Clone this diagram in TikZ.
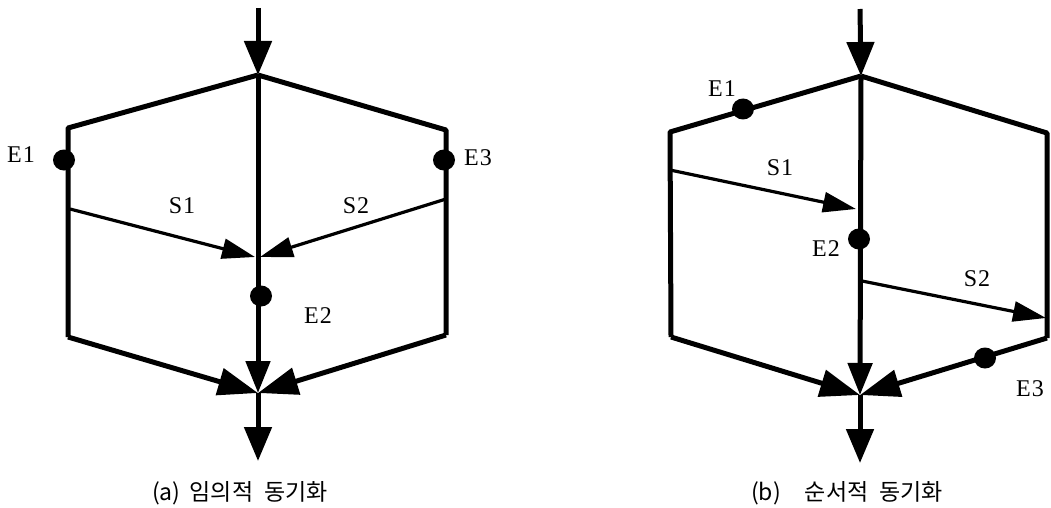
\documentclass[tikz,border=0pt]{standalone}
\usepackage{fontspec}
\setmainfont{Liberation Serif}
\newfontfamily\krfont{Noto Sans CJK KR}
\usetikzlibrary{arrows.meta,shapes.geometric}
\tikzset{
  main/.style={line width=5pt, line join=round},
  sline/.style={line width=3.2pt},
  bighead/.style={-{Triangle[length=34pt,width=27pt]}},
  midhead/.style={-{Triangle[length=32pt,width=24pt]}},
  diaghead/.style={-{Triangle[length=40pt,width=27pt]}},
  shead/.style={-{Triangle[length=33pt,width=20pt]}},
  evdot/.style={ellipse, fill=black, minimum width=22pt, minimum height=21pt, inner sep=0pt},
  lbl/.style={font=\fontsize{24}{27}\selectfont, inner sep=0pt},
  captext/.style={font=\krfont\fontsize{23}{27}\selectfont, inner sep=0pt, anchor=west}
}
\begin{document}
\begin{tikzpicture}[x=1pt,y=-1pt]
\useasboundingbox (0,0) rectangle (1051,508);
% ---------- (a) ----------
\coordinate (aS) at (258,8);
\coordinate (aT) at (258,75);
\coordinate (aTL) at (68,128);
\coordinate (aBL) at (68,337);
\coordinate (aTR) at (446,130);
\coordinate (aBR) at (446,335);
\coordinate (aB) at (258,393);
\coordinate (aE) at (258,461);
\coordinate (aS1s) at (70,209);
\coordinate (aS1t) at (255,257);
\coordinate (aS2s) at (446,199);
\coordinate (aS2t) at (260,257);
\draw[main,bighead] (aS) -- (aT);
\draw[main] (aT) -- (aTL) -- (aBL);
\draw[main] (aT) -- (aTR) -- (aBR);
\draw[main,diaghead] (aBL) -- (aB);
\draw[main,diaghead] (aBR) -- (aB);
\draw[main,midhead] (aT) -- (aB);
\draw[main,bighead] (aB) -- (aE);
\draw[sline,shead] (aS1s) -- (aS1t);
\draw[sline,shead] (aS2s) -- (aS2t);
\node[evdot] (aD1) at (64,160) {};
\node[evdot] (aD3) at (444,160) {};
\node[evdot] (aD2) at (261,296) {};
\node[lbl] (aL1) at (21,155) {E\kern1pt1};
\node[lbl] (aL3) at (478,158) {E\kern1pt3};
\node[lbl] (aL2) at (318,316) {E\kern1pt2};
\node[lbl] (aLS1) at (182,206) {S\kern1pt1};
\node[lbl] (aLS2) at (356,206) {S\kern1pt2};
\node[captext] (acap) at (152,493) {(a)\hspace{9pt}임의적\hspace{11pt}동기화};
% ---------- (b) ----------
\coordinate (bS) at (860,9);
\coordinate (bT) at (861,76);
\coordinate (bTL) at (670,132);
\coordinate (bBL) at (671,337);
\coordinate (bTR) at (1047,133);
\coordinate (bBR) at (1047,338);
\coordinate (bB) at (860,395);
\coordinate (bE) at (860,463);
\coordinate (bS1s) at (670,170);
\coordinate (bS1t) at (856,209);
\coordinate (bS2s) at (862,281);
\coordinate (bS2t) at (1046,318);
\draw[main,bighead] (bS) -- (bT);
\draw[main] (bT) -- (bTL) -- (bBL);
\draw[main] (bT) -- (bTR) -- (bBR);
\draw[main,diaghead] (bBL) -- (bB);
\draw[main,diaghead] (bBR) -- (bB);
\draw[main,midhead] (bT) -- (bB);
\draw[main,bighead] (bB) -- (bE);
\draw[sline,shead] (bS1s) -- (bS1t);
\draw[sline,shead] (bS2s) -- (bS2t);
\node[evdot] (bD1) at (743,109) {};
\node[evdot] (bD2) at (859,239) {};
\node[evdot] (bD3) at (985,358) {};
\node[lbl] (bL1) at (722,89) {E\kern1pt1};
\node[lbl] (bL2) at (826,249) {E\kern1pt2};
\node[lbl] (bL3) at (1030,389) {E\kern1pt3};
\node[lbl] (bLS1) at (780,168) {S\kern1pt1};
\node[lbl] (bLS2) at (977,279) {S\kern1pt2};
\node[captext] (bcap) at (751,493) {(b)\hspace{24pt}순서적\hspace{11pt}동기화};
\end{tikzpicture}
\end{document}
